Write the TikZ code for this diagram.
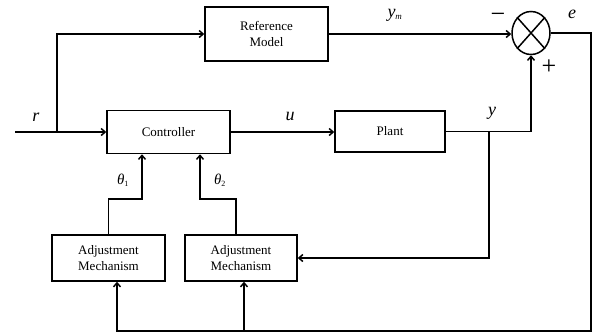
\documentclass[tikz,border=0pt]{standalone}
\usepackage{fontspec}
\setmainfont{Liberation Serif}
\usetikzlibrary{arrows.meta,shapes.geometric}
\begin{document}
\begin{tikzpicture}[x=1pt,y=-1pt,
  box/.style={draw,line width=1.5pt,inner sep=0pt,align=center,font=\fontsize{13}{15.5}\selectfont},
  arr/.style={line width=1.5pt,-{Straight Barb[length=4pt,width=7pt]}},
  lbl/.style={font=\fontsize{18}{18}\selectfont\itshape,inner sep=0pt},
  sgn/.style={font=\fontsize{26}{26}\selectfont,inner sep=0pt}]
\useasboundingbox (0,0) rectangle (595,333);
\node[box,minimum width=123pt,minimum height=54pt] (ref) at (266.5,34) {Reference\\Model};
\node[box,minimum width=123pt,minimum height=43pt] (ctrl) at (168.5,132) {Controller};
\node[box,minimum width=110pt,minimum height=41pt] (plant) at (390,131.5) {Plant};
\node[box,minimum width=113pt,minimum height=46pt] (adj1) at (108.5,258) {Adjustment\\Mechanism};
\node[box,minimum width=112pt,minimum height=46pt] (adj2) at (241,258) {Adjustment\\Mechanism};
\node[draw,ellipse,line width=1.5pt,minimum width=38pt,minimum height=43pt,inner sep=0pt] (sum) at (531,33) {};
\draw[line width=1.5pt] (sum.north west) -- (sum.south east) (sum.north east) -- (sum.south west);
% coordinates
\coordinate (rin) at (15,132);
\coordinate (br) at (57,132);
\coordinate (yb) at (489,131.5);
\coordinate (ec) at (591,331);
\coordinate (e1) at (117,331);
\coordinate (e2) at (244,331);
\coordinate (t1) at (142,199);
\coordinate (t2) at (200,199);
\coordinate (t2a) at (236,199);
% connectors
\draw[arr] (rin) -- (rin -| ctrl.west);
\draw[arr] (br) |- (ref.west);
\draw[arr] (ctrl.east) -- (ctrl.east -| plant.west);
\draw[arr] (ref.east) -- (ref.east -| sum.west);
\draw[arr] (plant.east) -| (sum.south);
\draw[arr] (yb) |- (adj2.east);
\draw[arr] (sum.east) -- (sum.east -| ec) -- (ec) -- (e1) -- (adj1.south -| e1);
\draw[arr] (e2) -- (adj2.south -| e2);
\draw[arr] (adj1.north) |- (t1) -- (t1 |- ctrl.south);
\draw[arr] (adj2.north -| t2a) -- (t2a) -- (t2) -- (t2 |- ctrl.south);
% labels
\node[lbl] (lr) at (36,117) {r};
\node[lbl] (lu) at (290,116) {u};
\node[lbl] (lym) at (395,15) {y\textsubscript{\fontsize{9}{9}\selectfont m}};
\node[lbl] (ly) at (492,113) {y};
\node[lbl] (le) at (572,14) {e};
\node[lbl,font=\fontsize{15}{16}\selectfont\itshape] (lt1) at (123,180) {θ\textsubscript{\fontsize{8}{8}\selectfont\upshape 1}};
\node[lbl,font=\fontsize{15}{16}\selectfont\itshape] (lt2) at (220,180) {θ\textsubscript{\fontsize{8}{8}\selectfont\upshape 2}};
\node[sgn] (minus) at (498,18) {−};
\node[sgn] (plus) at (549,67) {+};
\end{tikzpicture}
\end{document}
